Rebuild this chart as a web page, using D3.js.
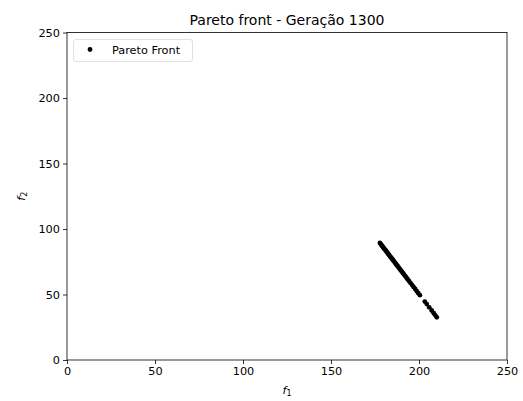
<!DOCTYPE html>
<html>
<head>
<meta charset="utf-8">
<script src="https://cdn.jsdelivr.net/npm/d3@7"></script>
<style>
  body { margin: 0; background: #fff; }
  text { font-family: "DejaVu Sans", sans-serif; }
</style>
</head>
<body>
<svg id="chart" width="523" height="401"></svg>
<script>
// Objective values of the non-dominated solutions (f1, f2)
const f1Values = [177.8, 178.3, 178.7, 179.1, 179.6, 180.0, 180.4, 180.9, 181.3, 181.8,
  182.2, 182.7, 183.1, 183.6, 184.0, 184.5, 185.0, 185.4, 185.9, 186.4,
  186.9, 187.4, 187.9, 188.4, 189.0, 189.6, 190.2, 190.8, 191.4, 192.1,
  192.8, 193.5, 194.3, 195.1, 196.0, 196.9, 197.8, 198.7, 199.6, 200.5,
  203.3, 204.4, 205.8, 207.2, 208.4, 209.3, 210.1];
const f2Values = [89.3, 88.4, 87.7, 87.0, 86.1, 85.4, 84.7, 83.9, 83.2, 82.3,
  81.6, 80.7, 80.0, 79.1, 78.4, 77.5, 76.7, 76.0, 75.1, 74.2,
  73.3, 72.5, 71.6, 70.7, 69.7, 68.6, 67.5, 66.5, 65.4, 64.2,
  63.0, 61.7, 60.3, 58.9, 57.4, 55.8, 54.2, 52.6, 51.0, 49.5,
  44.6, 42.7, 40.2, 37.8, 35.7, 34.1, 32.6];
const xTicks = [0, 50, 100, 150, 200, 250];
const yTicks = [0, 50, 100, 150, 200, 250];
const titleText = "Pareto front - Geração 1300";
const legendLabel = "Pareto Front";

const svg = d3.select("#chart");
const plot = { left: 67, right: 507, top: 32.5, bottom: 360 };

const x = d3.scaleLinear().domain([0, 250]).range([plot.left, plot.right]);
const y = d3.scaleLinear().domain([0, 250]).range([plot.bottom, plot.top]);

const tickFont = "11.3px";

// Axes
const xAxis = svg.append("g")
  .attr("transform", `translate(0,${plot.bottom})`)
  .call(d3.axisBottom(x).tickValues(xTicks).tickSize(4).tickPadding(3).tickSizeOuter(0));
const yAxis = svg.append("g")
  .attr("transform", `translate(${plot.left},0)`)
  .call(d3.axisLeft(y).tickValues(yTicks).tickSize(4).tickPadding(3).tickSizeOuter(0));
[xAxis, yAxis].forEach(g => {
  g.select(".domain").remove();
  g.selectAll("text").style("font-size", tickFont).attr("fill", "#000")
    .style("font-family", "DejaVu Sans, sans-serif");
  g.selectAll("line").attr("stroke", "#000").attr("stroke-width", 0.8);
});

// Frame around the plotting area
svg.append("rect")
  .attr("x", plot.left).attr("y", plot.top)
  .attr("width", plot.right - plot.left).attr("height", plot.bottom - plot.top)
  .attr("fill", "none").attr("stroke", "#000").attr("stroke-width", 0.8);

// Points of the front
const points = f1Values.map((v, i) => [v, f2Values[i]]);
svg.append("g").selectAll("circle")
  .data(points).join("circle")
  .attr("cx", d => x(d[0])).attr("cy", d => y(d[1]))
  .attr("r", 2.4).attr("fill", "#000");

// Title
svg.append("text")
  .attr("x", (plot.left + plot.right) / 2).attr("y", 24.5)
  .attr("text-anchor", "middle").style("font-size", "14px")
  .text(titleText);

// Axis labels (italic f with subscript index)
const xl = svg.append("text")
  .attr("x", (plot.left + plot.right) / 2).attr("y", 393.5)
  .attr("text-anchor", "middle").style("font-size", "11.3px");
xl.append("tspan").style("font-style", "italic").text("f");
xl.append("tspan").attr("dy", 2).style("font-size", "8px").text("1");

const yl = svg.append("text")
  .attr("transform", `translate(25,${(plot.top + plot.bottom) / 2}) rotate(-90)`)
  .attr("text-anchor", "middle").style("font-size", "11.3px");
yl.append("tspan").style("font-style", "italic").text("f");
yl.append("tspan").attr("dy", 2).style("font-size", "8px").text("2");

// Legend
const lg = svg.append("g");
lg.append("rect")
  .attr("x", 73.5).attr("y", 39.5).attr("width", 119).attr("height", 22)
  .attr("rx", 2.5).attr("fill", "#fff").attr("fill-opacity", 0.8)
  .attr("stroke", "#d9d9d9").attr("stroke-width", 0.8);
lg.append("circle").attr("cx", 90).attr("cy", 49.5).attr("r", 2.4).attr("fill", "#000");
lg.append("text").attr("x", 112).attr("y", 53.5)
  .style("font-size", "11.3px").text(legendLabel);
</script>
</body>
</html>
